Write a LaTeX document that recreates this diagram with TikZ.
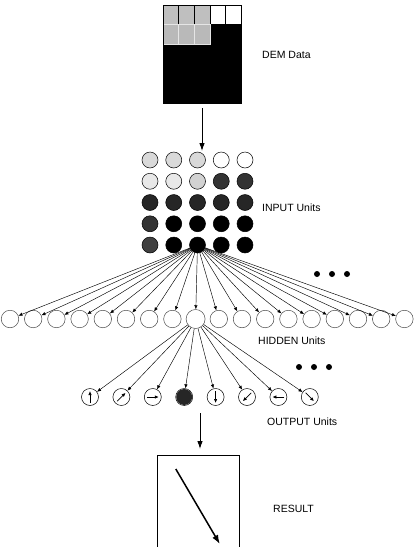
\documentclass[tikz,border=0pt]{standalone}
\usepackage{fontspec}
\setmainfont{Liberation Sans}
\usetikzlibrary{calc}
\usetikzlibrary{arrows.meta}

\begin{document}
\begin{tikzpicture} [x=1pt, y=-1pt,
  unit/.style={circle, draw, line width=.5pt, inner sep=0pt, minimum size=16pt},
  hid/.style={unit, draw=black!70, minimum size=17.5pt},
  outu/.style={unit, minimum size=17pt},
  conn/.style={line width=.45pt, -{Latex[length=4pt,width=3.4pt]}},
  pointer/.style={line width=.7pt, -{Latex[length=4pt,width=3.4pt]}},
  bigarrow/.style={line width=.9pt, -{Latex[length=8pt,width=5.5pt]}},
  lbl/.style={anchor=west, inner sep=0pt, font=\fontsize{10.5}{12}\selectfont},
  dot/.style={circle, fill, inner sep=0pt, minimum size=6pt}]
\useasboundingbox (0,0) rectangle (416,547);

\fill[black] (163,24.6) rectangle (241,103);
\foreach \c/\shade in {0/gray!50, 1/gray!50, 2/gray!50, 3/white, 4/white} \draw[line width=.4pt, fill=\shade] ({163+15.6*\c},5) rectangle ++(15.6,19.6);
\foreach \c in {0, 1, 2} \draw[line width=.3pt, draw=gray!20, fill=gray!55] ({163+15.6*\c},24.6) rectangle ++(15.6,19.6);
\node[draw, line width=.7pt, minimum width=78pt, minimum height=98pt, inner sep=0pt] (dem) at (202,54) {};
\node[lbl] (dem-label) at (262,55) {DEM Data};

\coordinate (dem-tip) at (202,151);
\draw[bigarrow] ([yshift=-5pt]dem.south) -- (dem-tip);

\foreach \shade [count=\k from 0] in
  {gray!30, gray!30, gray!30, white, white,
   gray!18, gray!18, gray!35, black!80, black!80,
   black!85, black!85, black!85, black!85, black!85,
   black!80, black, black, black, black,
   black!75, black, black, black, black}
  {\pgfmathtruncatemacro\r{\k/5+1}
   \pgfmathtruncatemacro\c{mod(\k,5)+1}
   \node[unit, fill=\shade] (in-\r-\c) at ({150+23.75*(\c-1)}, {160+21.25*(\r-1)}) {};}
\node[lbl] (in-label) at (262,208) {INPUT Units};

\foreach \i [evaluate=\i as \hx using 10+23.2*(\i-1)] in {1,...,8,10,11,...,18} \node[hid] (hid-\i) at (\hx,319) {};
\node[hid, minimum size=19pt] (hid-9) at (195.6,319) {};
\node[lbl] (hid-label) at (258,341) {HIDDEN Units};
\foreach \i in {1,...,18} \draw[conn] (in-5-3) -- (hid-\i);
\foreach \x [count=\i] in {317, 332, 347} \node[dot] (hid-more-\i) at (\x,274) {};

\foreach \i [evaluate=\i as \ox using 90+31.4*(\i-1)] in {1,...,8} \node[outu] (out-\i) at (\ox,397) {};
\fill[black!85] (out-4) circle (8pt);
\foreach \i/\dx/\dy in {1/0/-6, 2/4.2/-4.2, 3/6/0, 5/0/6, 6/-4.2/4.2, 7/-6/0, 8/4.2/4.2}
  \draw[pointer] ($(out-\i)-(\dx,\dy)$) -- ($(out-\i)+(\dx,\dy)$);
\foreach \i in {1,...,8} \draw[conn] (hid-9) -- (out-\i);
\foreach \x [count=\i] in {299, 314, 329} \node[dot] (out-more-\i) at (\x,367) {};
\node[lbl] (out-label) at (267,422) {OUTPUT Units};

\node[minimum width=81pt, minimum height=92pt, inner sep=0pt, anchor=north] (result) at (198.5,455) {};
\draw[line width=.7pt] (result.south west) |- (result.north east) -- (result.south east);
\draw[line width=1.5pt, -{Latex[length=9pt,width=6.5pt]}] ($(result.north west)+(18,14)$) -- ($(result.north west)+(62,89)$);
\coordinate (out-tail) at (200,413);
\draw[bigarrow, shorten >=6pt] (out-tail) -- (out-tail |- result.north);
\node[lbl] (res-label) at (273,509) {RESULT};

\end{tikzpicture}
\end{document}
